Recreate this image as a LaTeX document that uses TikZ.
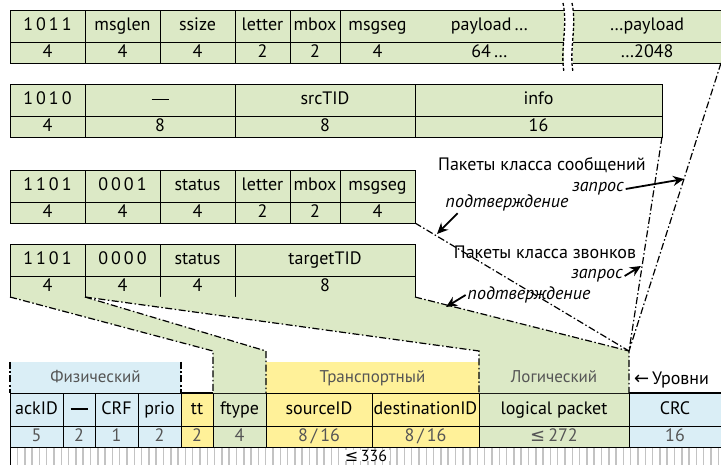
\documentclass[tikz,border=0pt]{standalone}
\usepackage{fontspec}
\setmainfont{PT Sans}
\newfontfamily\symfont{DejaVu Sans}
\usetikzlibrary{arrows.meta}

\definecolor{fldgreen}{RGB}{220,233,198}
\definecolor{fldblue}{RGB}{218,238,246}
\definecolor{fldyellow}{RGB}{255,241,153}
\definecolor{tickgray}{RGB}{195,195,195}
\definecolor{lvlgray}{RGB}{85,85,85}

\newcommand{\nofield}{\rule[4.5pt]{17pt}{1.7pt}}

\begin{document}
\begin{tikzpicture}[x=1pt, y=-1pt,
	every node/.style={font=\fontsize{18}{20}\selectfont, inner sep=0pt, outer sep=0pt},
	fld/.style={draw, line width=0.9pt, fill=fldgreen, anchor=north west, text height=13pt, text depth=3.5pt},
	fldname/.style={fld, minimum height=32pt},
	fldsize/.style={fld, minimum height=21pt},
	pktname/.style={fld, minimum height=33pt},
	pktsize/.style={fld, minimum height=21pt, text=lvlgray},
	lvlbox/.style={anchor=north west, minimum height=31pt, text=lvlgray, text height=13pt, text depth=3.5pt, font=\fontsize{17}{19}\selectfont},
	lvlline/.style={line width=1.2pt, dash pattern=on 7pt off 2.5pt on 1.5pt off 2.5pt},
	brk/.style={line width=1.3pt, dash pattern=on 3pt off 2pt},
	ptr/.style={line width=1.8pt, -{Stealth[length=11pt, width=10pt]}},
	lbl/.style={font=\fontsize{18}{20}\selectfont\itshape},
	tick/.style={tickgray, line width=1.5pt}]
	\useasboundingbox (0,0) rectangle (721,465);

	% message request
	\foreach \xa/\xb/\nm/\nb [count=\i] in {10/85/{1\,0\,1\,1}/4, 85/160/msglen/4, 160/235/ssize/4, 235/290/letter/2, 290/340/mbox/2, 340/415/msgseg/4} {
		\node[fldname, minimum width=(\xb-\xa)*1pt] (msgreq\i) at (\xa,10) {\nm};
		\node[fldsize, minimum width=(\xb-\xa)*1pt] (msgreqb\i) at (\xa,42) {\nb};
	}
	\node[fldname, draw=none, minimum width=149pt] (msgreqpl) at (415,10) {payload\,…};
	\node[fldsize, draw=none, minimum width=149pt] (msgreqbpl) at (415,42) {64\,…};
	\node[fldname, draw=none, minimum width=148pt] (msgreqpr) at (573,10) {…payload};
	\node[fldsize, draw=none, minimum width=148pt] (msgreqbpr) at (573,42) {…2048};
	\draw[line width=0.9pt] (msgreqpl.north west) -- (msgreqpl.north east) (msgreqpl.south west) -- (msgreqpl.south east) (msgreqbpl.south west) -- (msgreqbpl.south east);
	\draw[line width=0.9pt] (msgreqpr.north west) -- (msgreqpr.north east) (msgreqpr.south west) -- (msgreqpr.south east) (msgreqbpr.south west) -- (msgreqbpr.south east);
	\draw[brk] (563,3) .. controls (568,26) and (560,50) .. (564,72);
	\draw[brk] (572,3) .. controls (577,26) and (569,50) .. (573,72);

	% doorbell request
	\foreach \xa/\xb/\nm/\nb [count=\i] in {10/85/{1\,0\,1\,0}/4, 85/235/\nofield/8, 235/415/srcTID/8, 415/662/info/16} {
		\node[fldname, minimum width=(\xb-\xa)*1pt] (dbreq\i) at (\xa,84) {\nm};
		\node[fldsize, minimum width=(\xb-\xa)*1pt] (dbreqb\i) at (\xa,116) {\nb};
	}

	% message response
	\foreach \xa/\xb/\nm/\nb [count=\i] in {10/85/{1\,1\,0\,1}/4, 85/160/{0\,0\,0\,1}/4, 160/235/status/4, 235/290/letter/2, 290/340/mbox/2, 340/415/msgseg/4} {
		\node[fldname, minimum width=(\xb-\xa)*1pt] (msgresp\i) at (\xa,170) {\nm};
		\node[fldsize, minimum width=(\xb-\xa)*1pt] (msgrespb\i) at (\xa,202) {\nb};
	}

	% doorbell response
	\foreach \xa/\xb/\nm/\nb [count=\i] in {10/85/{1\,1\,0\,1}/4, 85/160/{0\,0\,0\,0}/4, 160/235/status/4, 235/415/targetTID/8} {
		\node[fldname, minimum width=(\xb-\xa)*1pt] (dbresp\i) at (\xa,244) {\nm};
		\node[fldsize, minimum width=(\xb-\xa)*1pt] (dbrespb\i) at (\xa,276) {\nb};
	}

	% packet fields
	\foreach \xa/\xb/\nm/\nb/\cl [count=\i] in {10/63/ackID/5/fldblue, 63/95/\nofield/2/fldblue, 95/138/CRF/1/fldblue, 138/181/prio/2/fldblue, 181/213/tt/2/fldyellow, 213/266/ftype/4/fldgreen, 266/372/sourceID/{8\,/\,16}/fldyellow, 372/479/destinationID/{8\,/\,16}/fldyellow, 479/629/logical packet/{{\symfont ≤}\,272}/fldgreen, 629/721/CRC/16/fldblue} {
		\node[pktname, fill=\cl, minimum width=(\xb-\xa)*1pt] (pkt\i) at (\xa,393) {\nm};
		\node[pktsize, fill=\cl, minimum width=(\xb-\xa)*1pt] (pktb\i) at (\xa,426) {\nb};
	}
	\draw[line width=2pt] (pkt1.north west) -- (pkt10.north east);

	% levels
	\node[lvlbox, fill=fldblue, minimum width=171pt] (phys) at (10,362) {Физический};
	\node[lvlbox, fill=fldyellow, minimum width=213pt] (trans) at (266,362) {Транспортный};
	\coordinate (ftA) at (213,351);
	\coordinate (ftB) at (266,351);
	\coordinate (lgA) at (479,351);
	\coordinate (apex) at (629,351);
	\fill[fldgreen] (dbrespb1.south west) -- (dbrespb1.south east) -- (ftB) -- (pkt6.north east) -- (pkt6.north west) -- (ftA) -- cycle;
	\fill[fldgreen] (dbrespb1.south east) -- (dbrespb4.south east) -- (apex) -- (pkt9.north east) -- (pkt9.north west) -- (lgA) -- cycle;
	\node[lvlbox, minimum width=150pt] (logic) at (479,362) {Логический};
	\node[anchor=west] (levels) at (634,380) {{\symfont ←}\,Уровни};

	\draw[lvlline] (phys.north west) -- (phys.south west);
	\draw[lvlline] (phys.north east) -- (phys.south east);
	\draw[lvlline] (dbrespb1.south west) -- (ftA) -- (pkt6.north west);
	\draw[lvlline] (dbrespb1.south east) -- (ftB) -- (pkt6.north east);
	\draw[lvlline] (dbrespb1.south east) -- (lgA) -- (pkt9.north west);
	\draw[lvlline] (dbrespb4.south east) -- (apex) -- (pkt9.north east);
	\draw[lvlline] (msgrespb6.south east) -- (apex);
	\draw[lvlline] (dbreqb4.south east) -- (apex);
	\draw[lvlline] (msgreqbpr.south east) -- (apex);

	% ruler
	\foreach \k in {0,...,96}
		\draw[tick] ({17.5+7.3*\k},448) -- ++(0,17);
	\draw[line width=1pt] (pktb1.south west) -- ++(0,18);
	\node[fill=white, inner xsep=3pt, font=\fontsize{16}{18}\selectfont] (total) at (366,455.5) {{\symfont ≤}\,336};

	% classes
	\node (msgcls) at (542,165) {Пакеты класса сообщений};
	\node[lbl] (msgreqlbl) at (598,189) {запрос};
	\node[lbl] (msgacklbl) at (507,203) {подтверждение};
	\node (dbcls) at (545,252) {Пакеты класса звонков};
	\node[lbl] (dbreqlbl) at (597,276) {запрос};
	\node[lbl] (dbacklbl) at (529,295) {подтверждение};
	\coordinate (msgreqtip) at (684,179);
	\coordinate (msgacktip) at (437,234);
	\coordinate (dbreqtip) at (641,266);
	\coordinate (dbacktip) at (446,307);
	\draw[ptr] ([xshift=2pt]msgreqlbl.east) -- (msgreqtip);
	\draw[ptr] ([xshift=12pt,yshift=-2pt]msgacklbl.south west) -- (msgacktip);
	\draw[ptr] ([xshift=2pt]dbreqlbl.east) -- (dbreqtip);
	\draw[ptr] ([xshift=-2pt]dbacklbl.west) -- (dbacktip);
\end{tikzpicture}
\end{document}
